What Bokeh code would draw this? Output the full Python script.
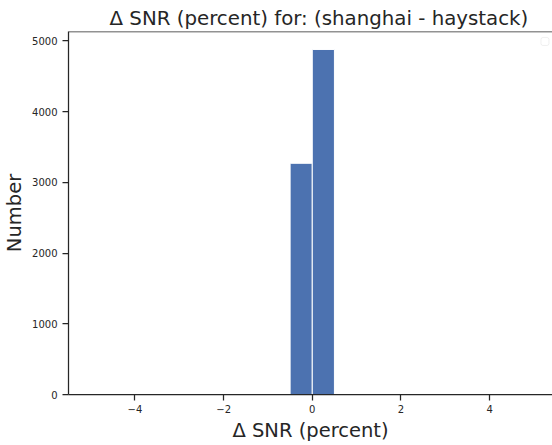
from bokeh.plotting import figure
from bokeh.models import Range1d, FixedTicker, BoxAnnotation, Span
from bokeh.embed import file_html
from bokeh.resources import INLINE

# Histogram of SNR differences, 0.5-percent bins from -5 to 5
bin_edges = [-5.0 + 0.5 * i for i in range(21)]
counts = [0, 0, 0, 0, 0, 0, 0, 0, 0, 3270,
          4880, 0, 0, 0, 0, 0, 0, 0, 0, 0]
x_ticks = [-4, -2, 0, 2, 4]
y_ticks = [0, 1000, 2000, 3000, 4000, 5000]
y_top = 5134

TEXT = "#262626"
FONT = "DejaVu Sans"
BAR = "#4C72B0"

p = figure(width=552, height=445, output_backend="svg", toolbar_location=None,
           x_range=Range1d(-5.5, 5.42), y_range=Range1d(0, y_top),
           title="Δ SNR (percent) for: (shanghai - haystack)")
p.min_border_left = 67
p.min_border_right = 0
p.min_border_top = 31
p.min_border_bottom = 51

p.title.text_font = FONT
p.title.text_font_size = "19.8px"
p.title.text_font_style = "normal"
p.title.text_color = TEXT
p.title.align = "left"
p.title.offset = 41
p.title.standoff = 3

lefts = bin_edges[:-1]
rights = bin_edges[1:]
p.quad(left=lefts, right=rights, bottom=0, top=counts,
       fill_color=BAR, line_color="white", line_width=1)

p.xgrid.visible = False
p.ygrid.visible = False
p.outline_line_color = None
# top spine of the axes box
p.add_layout(Span(location=y_top, dimension="width",
                  line_color=TEXT, line_width=1.5))

for ax in (p.xaxis[0], p.yaxis[0]):
    ax.axis_line_color = TEXT
    ax.axis_line_width = 1.25
    ax.major_tick_line_color = TEXT
    ax.major_tick_line_width = 1.25
    ax.major_tick_out = 6
    ax.major_tick_in = 0
    ax.minor_tick_line_color = None
    ax.major_label_text_font = FONT
    ax.major_label_text_font_size = "10px"
    ax.major_label_text_color = TEXT
    ax.axis_label_text_font = FONT
    ax.axis_label_text_font_size = "19.5px"
    ax.axis_label_text_font_style = "normal"
    ax.axis_label_text_color = TEXT

p.xaxis.ticker = FixedTicker(ticks=x_ticks)
p.yaxis.ticker = FixedTicker(ticks=y_ticks)
p.xaxis.major_label_overrides = {t: ("\u2212%d" % -t if t < 0 else str(t)) for t in x_ticks}
p.xaxis.axis_label = "Δ SNR (percent)"
p.yaxis.axis_label = "Number"
p.xaxis.major_label_standoff = 4
p.yaxis.major_label_standoff = 5
p.xaxis.axis_label_standoff = 3
p.yaxis.axis_label_standoff = 3

# empty legend frame in the upper right corner
p.add_layout(BoxAnnotation(left=5.16, right=5.34, bottom=4936, top=5050,
                           fill_color="white", fill_alpha=0.8,
                           line_color="#cccccc", line_width=1, border_radius=2))

open("out.html", "w").write(file_html(p, INLINE))
